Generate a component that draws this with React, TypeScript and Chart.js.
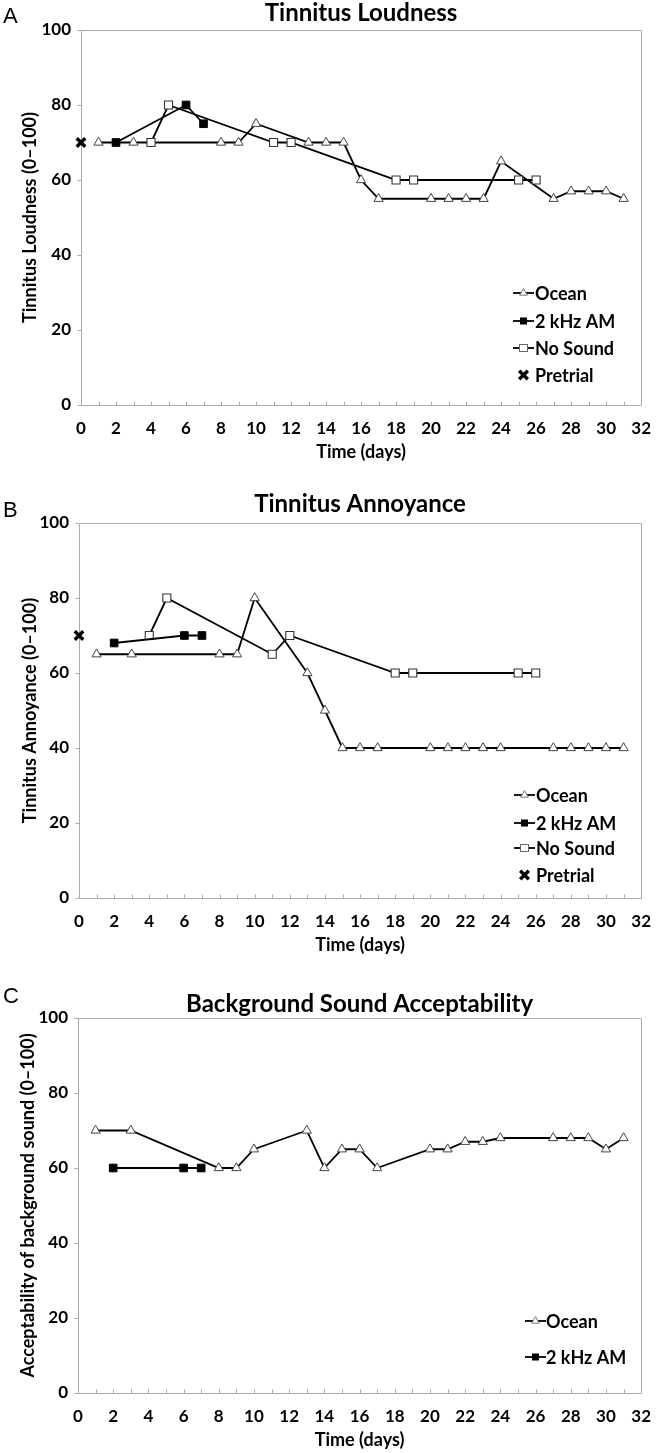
import React, { useEffect, useRef } from 'react';
import { Chart, registerables } from 'chart.js';

Chart.register(...registerables);

const FONT = 'Lato, "Open Sans", "DejaVu Sans", sans-serif';

// ---------- Shared axis ticks ----------
const xTickValues = [0, 2, 4, 6, 8, 10, 12, 14, 16, 18, 20, 22, 24, 26, 28, 30, 32];
const yTickValues = [0, 20, 40, 60, 80, 100];

// ---------- Panel A: Tinnitus Loudness ----------
const loudOceanDays = [1, 3, 8, 9, 10, 13, 14, 15, 16, 17, 20, 21, 22, 23, 24, 27, 28, 29, 30, 31];
const loudOceanValues = [70, 70, 70, 70, 75, 70, 70, 70, 60, 55, 55, 55, 55, 55, 65, 55, 57, 57, 57, 55];
const loudAmDays = [2, 6, 7];
const loudAmValues = [70, 80, 75];
const loudNoSoundDays = [4, 5, 11, 12, 18, 19, 25, 26];
const loudNoSoundValues = [70, 80, 70, 70, 60, 60, 60, 60];
const loudPretrialDays = [0];
const loudPretrialValues = [70];

// ---------- Panel B: Tinnitus Annoyance ----------
const annoyOceanDays = [1, 3, 8, 9, 10, 13, 14, 15, 16, 17, 20, 21, 22, 23, 24, 27, 28, 29, 30, 31];
const annoyOceanValues = [65, 65, 65, 65, 80, 60, 50, 40, 40, 40, 40, 40, 40, 40, 40, 40, 40, 40, 40, 40];
const annoyAmDays = [2, 6, 7];
const annoyAmValues = [68, 70, 70];
const annoyNoSoundDays = [4, 5, 11, 12, 18, 19, 25, 26];
const annoyNoSoundValues = [70, 80, 65, 70, 60, 60, 60, 60];
const annoyPretrialDays = [0];
const annoyPretrialValues = [70];

// ---------- Panel C: Background Sound Acceptability ----------
const accOceanDays = [1, 3, 8, 9, 10, 13, 14, 15, 16, 17, 20, 21, 22, 23, 24, 27, 28, 29, 30, 31];
const accOceanValues = [70, 70, 60, 60, 65, 70, 60, 65, 65, 60, 65, 65, 67, 67, 68, 68, 68, 68, 65, 68];
const accAmDays = [2, 6, 7];
const accAmValues = [60, 60, 60];

// ---------- Styles ----------
type Kind = 'ocean' | 'am' | 'nosound' | 'pretrial';

const seriesStyle: Record<Kind, any> = {
  ocean: {
    label: 'Ocean',
    borderColor: '#000',
    borderWidth: 1.8,
    pointStyle: 'triangle',
    pointRadius: 5.3,
    pointBorderColor: '#444',
    pointBackgroundColor: '#fff',
    pointBorderWidth: 1,
    showLine: true,
  },
  am: {
    label: '2 kHz AM',
    borderColor: '#000',
    borderWidth: 1.8,
    pointStyle: 'rect',
    pointRadius: 5.4,
    pointBorderColor: '#000',
    pointBackgroundColor: '#000',
    pointBorderWidth: 1,
    showLine: true,
  },
  nosound: {
    label: 'No Sound',
    borderColor: '#000',
    borderWidth: 1.8,
    pointStyle: 'rect',
    pointRadius: 5.7,
    pointBorderColor: '#333',
    pointBackgroundColor: '#fff',
    pointBorderWidth: 1.1,
    showLine: true,
  },
  pretrial: {
    label: 'Pretrial',
    borderColor: '#000',
    borderWidth: 1,
    pointStyle: 'crossRot',
    pointRadius: 6,
    pointBorderColor: '#000',
    pointBackgroundColor: '#000',
    pointBorderWidth: 3.4,
    showLine: false,
  },
};

function makeSeries(kind: Kind, days: number[], values: number[]) {
  return {
    ...seriesStyle[kind],
    data: days.map((d, i) => ({ x: d, y: values[i] })),
    clip: false,
    tension: 0,
    fill: false,
  };
}

function drawMarker(ctx: CanvasRenderingContext2D, kind: Kind, x: number, y: number) {
  ctx.save();
  if (kind === 'ocean') {
    const r = 4.4;
    ctx.beginPath();
    ctx.moveTo(x, y - r);
    ctx.lineTo(x + r * 0.866, y + r * 0.5);
    ctx.lineTo(x - r * 0.866, y + r * 0.5);
    ctx.closePath();
    ctx.fillStyle = '#fff';
    ctx.fill();
    ctx.strokeStyle = '#777';
    ctx.lineWidth = 1;
    ctx.stroke();
  } else if (kind === 'am') {
    ctx.fillStyle = '#000';
    ctx.fillRect(x - 3.5, y - 3.5, 7, 7);
  } else if (kind === 'nosound') {
    ctx.fillStyle = '#fff';
    ctx.fillRect(x - 4, y - 3.5, 8, 7);
    ctx.strokeStyle = '#666';
    ctx.lineWidth = 1;
    ctx.strokeRect(x - 4, y - 3.5, 8, 7);
  } else {
    ctx.strokeStyle = '#000';
    ctx.lineWidth = 3.4;
    ctx.lineCap = 'butt';
    const s = 4.3;
    ctx.beginPath();
    ctx.moveTo(x - s, y - s);
    ctx.lineTo(x + s, y + s);
    ctx.moveTo(x + s, y - s);
    ctx.lineTo(x - s, y + s);
    ctx.stroke();
  }
  ctx.restore();
}

const decorPlugin = {
  id: 'decor',
  beforeDatasetsDraw(chart: any) {
    const { ctx, chartArea: a, scales } = chart;
    const xs = scales.x;
    const ys = scales.y;
    ctx.save();
    ctx.strokeStyle = '#ababab';
    ctx.lineWidth = 1;
    const l = Math.round(a.left) + 0.5;
    const t = Math.round(a.top) + 0.5;
    const r = Math.round(a.right) + 0.5;
    const b = Math.round(a.bottom) + 0.5;
    ctx.beginPath();
    ctx.moveTo(l, t);
    ctx.lineTo(r, t);
    ctx.lineTo(r, b);
    ctx.lineTo(l, b);
    ctx.closePath();
    ctx.stroke();
    ctx.beginPath();
    for (let d = xs.min + 1; d < xs.max; d++) {
      const px = Math.round(xs.getPixelForValue(d)) + 0.5;
      ctx.moveTo(px, b);
      ctx.lineTo(px, b - 4);
    }
    for (const v of yTickValues) {
      const py = Math.round(ys.getPixelForValue(v)) + 0.5;
      ctx.moveTo(l - 4, py);
      ctx.lineTo(l, py);
    }
    ctx.stroke();
    ctx.restore();
  },
  afterDraw(chart: any, _args: any, opts: any) {
    const { ctx, chartArea: a } = chart;
    ctx.save();
    ctx.fillStyle = '#000';
    // panel letter
    ctx.font = '22px "Liberation Sans", Arial, sans-serif';
    ctx.textAlign = 'left';
    ctx.textBaseline = 'alphabetic';
    ctx.fillText(opts.letter, 3, opts.letterBaseline);
    // title
    ctx.font = `bold 24px ${FONT}`;
    ctx.textAlign = 'center';
    ctx.fillText(opts.title, (a.left + a.right) / 2, opts.titleBaseline);
    // x title
    ctx.font = `bold 18px ${FONT}`;
    ctx.textBaseline = 'middle';
    ctx.fillText('Time (days)', (a.left + a.right) / 2, a.bottom + 47);
    // y title
    ctx.save();
    ctx.translate(opts.yTitleX, (a.top + a.bottom) / 2);
    ctx.rotate(-Math.PI / 2);
    ctx.fillText(opts.yTitle, 0, 0);
    ctx.restore();
    // legend
    ctx.font = `bold 18px ${FONT}`;
    ctx.textAlign = 'left';
    ctx.textBaseline = 'middle';
    opts.legend.forEach((kind: Kind, i: number) => {
      const y = opts.legendY[i];
      const x0 = opts.legendX;
      if (kind !== 'pretrial') {
        ctx.strokeStyle = '#000';
        ctx.lineWidth = 1.8;
        ctx.beginPath();
        ctx.moveTo(x0, y);
        ctx.lineTo(x0 + 21, y);
        ctx.stroke();
      }
      drawMarker(ctx, kind, x0 + 10.5, y);
      ctx.fillStyle = '#000';
      ctx.fillText(seriesStyle[kind].label, opts.legendTextX, y + 1);
    });
    ctx.restore();
  },
};

interface PanelProps {
  top: number;
  height: number;
  area: { left: number; right: number; top: number; bottom: number };
  datasets: any[];
  decor: any;
}

function Panel({ top, height, area, datasets, decor }: PanelProps) {
  const ref = useRef<HTMLCanvasElement | null>(null);
  useEffect(() => {
    if (!ref.current) return;
    const chart = new Chart(ref.current, {
      type: 'line',
      data: { datasets },
      plugins: [decorPlugin],
      options: {
        responsive: false,
        animation: false,
        events: [],
        layout: { padding: { left: 0, top: area.top, right: 664 - area.right, bottom: 0 } },
        plugins: {
          legend: { display: false },
          title: { display: false },
          tooltip: { enabled: false },
          decor,
        } as any,
        scales: {
          x: {
            type: 'linear',
            min: 0,
            max: 32,
            grid: { display: false, drawTicks: false },
            border: { display: false },
            afterBuildTicks: (s: any) => {
              s.ticks = xTickValues.map((v) => ({ value: v }));
            },
            afterFit: (s: any) => {
              s.height = height - area.bottom;
            },
            ticks: {
              color: '#000',
              padding: 13,
              maxRotation: 0,
              autoSkip: false,
              font: { family: FONT, size: 17, weight: 'bold' },
            },
          },
          y: {
            type: 'linear',
            min: 0,
            max: 100,
            grid: { display: false, drawTicks: false },
            border: { display: false },
            afterBuildTicks: (s: any) => {
              s.ticks = yTickValues.map((v) => ({ value: v }));
            },
            afterFit: (s: any) => {
              s.width = area.left;
            },
            ticks: {
              color: '#000',
              padding: 10,
              font: { family: FONT, size: 17, weight: 'bold' },
            },
          },
        },
      } as any,
    });
    return () => chart.destroy();
  }, []);
  return (
    <canvas
      ref={ref}
      width={664}
      height={height}
      style={{ position: 'absolute', left: 0, top, width: 664, height }}
    />
  );
}

export default function App() {
  const datasetsA = [
    makeSeries('pretrial', loudPretrialDays, loudPretrialValues),
    makeSeries('am', loudAmDays, loudAmValues),
    makeSeries('nosound', loudNoSoundDays, loudNoSoundValues),
    makeSeries('ocean', loudOceanDays, loudOceanValues),
  ];
  const datasetsB = [
    makeSeries('pretrial', annoyPretrialDays, annoyPretrialValues),
    makeSeries('am', annoyAmDays, annoyAmValues),
    makeSeries('nosound', annoyNoSoundDays, annoyNoSoundValues),
    makeSeries('ocean', annoyOceanDays, annoyOceanValues),
  ];
  const datasetsC = [
    makeSeries('am', accAmDays, accAmValues),
    makeSeries('ocean', accOceanDays, accOceanValues),
  ];
  return (
    <div style={{ position: 'absolute', left: 0, top: 0, width: 664, height: 1453, background: '#fff' }}>
      <Panel
        top={0}
        height={470}
        area={{ left: 81, right: 650, top: 30, bottom: 405 }}
        datasets={datasetsA}
        decor={{
          letter: 'A',
          letterBaseline: 23,
          title: 'Tinnitus Loudness',
          titleBaseline: 21,
          yTitle: 'Tinnitus Loudness (0\u2013100)',
          yTitleX: 30,
          legend: ['ocean', 'am', 'nosound', 'pretrial'],
          legendY: [293, 321, 348, 375],
          legendX: 513,
          legendTextX: 535,
        }}
      />
      <Panel
        top={470}
        height={490}
        area={{ left: 79, right: 651, top: 53, bottom: 428 }}
        datasets={datasetsB}
        decor={{
          letter: 'B',
          letterBaseline: 47,
          title: 'Tinnitus Annoyance',
          titleBaseline: 42,
          yTitle: 'Tinnitus Annoyance (0\u2013100)',
          yTitleX: 30,
          legend: ['ocean', 'am', 'nosound', 'pretrial'],
          legendY: [325, 353, 378, 405],
          legendX: 514,
          legendTextX: 536,
        }}
      />
      <Panel
        top={960}
        height={493}
        area={{ left: 78, right: 652, top: 58, bottom: 433 }}
        datasets={datasetsC}
        decor={{
          letter: 'C',
          letterBaseline: 43,
          title: 'Background Sound Acceptability',
          titleBaseline: 52,
          yTitle: 'Acceptability of background sound (0\u2013100)',
          yTitleX: 28,
          legend: ['ocean', 'am'],
          legendY: [361, 397],
          legendX: 525,
          legendTextX: 546,
        }}
      />
    </div>
  );
}
